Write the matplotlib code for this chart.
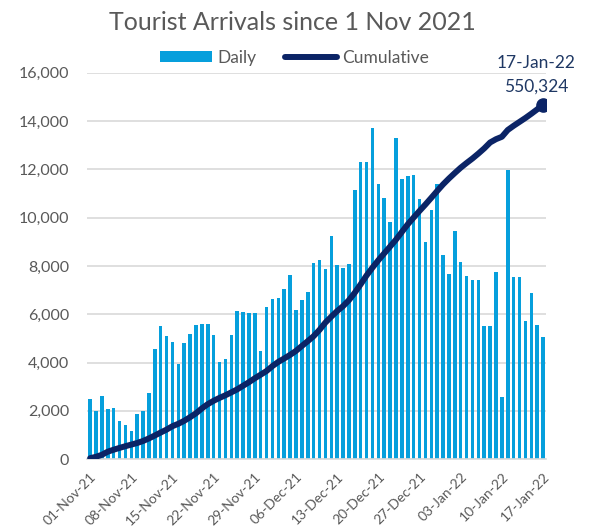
"""Tourist arrivals since 1 Nov 2021: daily bars with the cumulative total as a line."""

import matplotlib
matplotlib.use('Agg')
import matplotlib.pyplot as plt
from matplotlib.patches import Patch
from matplotlib.lines import Line2D


plt.rcParams['font.family'] = ['Lato', 'DejaVu Sans']

# daily arrivals, 01-Nov-21 .. 17-Jan-22
daily = [2500, 2000, 2600, 2070, 2130, 1600, 1430, 1160, 1890, 2000,
         2750, 4540, 5530, 5100, 4860, 3950, 4800, 5190, 5570, 5600,
         5590, 5130, 4030, 4140, 5160, 6130, 6100, 6070, 6060, 4460,
         6300, 6640, 6690, 7040, 7630, 6180, 6570, 6940, 8110, 8240,
         7880, 9220, 8020, 7900, 8090, 11130, 12290, 12290, 13720, 11380,
         10820, 9820, 13310, 11610, 11740, 11750, 10750, 9000, 10300, 11380,
         8460, 7650, 9450, 8170, 7570, 7430, 7430, 5520, 5520, 7750,
         2590, 11980, 7540, 7540, 5710, 6860, 5560, 5040]

# cumulative arrivals
cumulative = [1550, 3730, 6830, 11640, 14750, 17540, 20180, 22670, 25150, 28260,
              32290, 36790, 41450, 45950, 51230, 54960, 59620, 65200, 71260, 78870,
              85390, 90670, 95170, 99200, 103710, 108360, 113950, 119540, 125600, 131190,
              136930, 144540, 151060, 156340, 161920, 168140, 175740, 183200, 190960, 200740,
              212070, 221230, 229930, 237530, 246850, 258490, 271530, 285190, 297300, 308790,
              319500, 330060, 340770, 352730, 364530, 375080, 385330, 395270, 405670, 416230,
              426470, 435630, 444170, 452400, 459700, 466680, 474290, 482360, 491520, 496640,
              500370, 510930, 517450, 523500, 529560, 536080, 542910, 550324]

tick_labels = ['01-Nov-21', '08-Nov-21', '15-Nov-21', '22-Nov-21', '29-Nov-21', '06-Dec-21',
               '13-Dec-21', '20-Dec-21', '27-Dec-21', '03-Jan-22', '10-Jan-22', '17-Jan-22']
y_ticks = [0, 2000, 4000, 6000, 8000, 10000, 12000, 14000, 16000]

bar_color = '#069FDC'
line_color = '#0B2466'
text_color = '#595959'

days = list(range(len(daily)))

fig = plt.figure(figsize=(5.89, 5.26), dpi=100)
ax = fig.add_axes([0.148, 0.127, 0.779, 0.735])

ax.bar(days, daily, width=0.6, color=bar_color, zorder=2)
ax.set_xlim(-0.5, len(daily) - 0.5)
ax.set_ylim(0, 16000)
ax.set_yticks(y_ticks)
ax.set_yticklabels([f'{v:,}' for v in y_ticks], fontsize=11.5, color=text_color)
ax.set_xticks(days[::7])
ax.set_xticklabels(tick_labels, rotation=45, ha='right', rotation_mode='anchor',
                   fontsize=10, color=text_color)
ax.tick_params(length=0)
ax.tick_params(axis='y', pad=13)
ax.tick_params(axis='x', pad=8)
ax.grid(axis='y', color='#D9D9D9', linewidth=1.2, zorder=0)
for side in ['top', 'right', 'left']:
    ax.spines[side].set_visible(False)
ax.spines['bottom'].set_color('#D9D9D9')
ax.spines['bottom'].set_linewidth(1.2)

ax2 = ax.twinx()
ax2.set_ylim(0, 600000)
ax2.plot(days, cumulative, color=line_color, linewidth=4.3, solid_capstyle='round', zorder=3)
ax2.plot(days[-1], cumulative[-1], 'o', color=line_color, markersize=9.5)
ax2.axis('off')

ax2.annotate(f'17-Jan-22\n{cumulative[-1]:,}', xy=(days[-1], cumulative[-1]),
             xytext=(-5, 7), textcoords='offset points', ha='center', va='bottom',
             fontsize=12.5, color='#1F3864', linespacing=1.6)

fig.text(0.497, 0.957, 'Tourist Arrivals since 1 Nov 2021', ha='center', va='center',
         fontsize=18, color=text_color)

handles = [Patch(facecolor=bar_color, label='Daily'),
           Line2D([0], [0], color=line_color, linewidth=4.3, solid_capstyle='round', label='Cumulative')]
fig.legend(handles=handles, loc='center', bbox_to_anchor=(0.5, 0.89), ncol=2, frameon=False,
           fontsize=12.5, handlelength=3.0, handleheight=0.6, columnspacing=1.6,
           handletextpad=0.3, labelcolor=text_color)

plt.savefig('out.png', dpi=100)
